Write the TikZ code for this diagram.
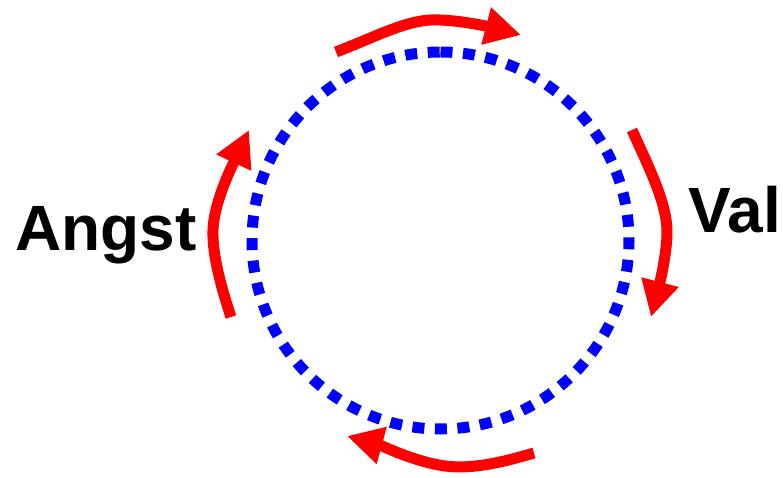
\documentclass[tikz,border=0pt]{standalone}
\usepackage{fontspec}
\setmainfont{Liberation Sans}
\usetikzlibrary{arrows.meta}
\begin{document}
\begin{tikzpicture}[x=0.75pt,y=-0.75pt,
  cyc/.style={draw=red,line width=8.25pt,-{Triangle[length=27pt,width=27pt]}},
  lbl/.style={inner sep=0pt,anchor=base west,font=\bfseries\fontsize{48}{56}\selectfont}]
\useasboundingbox (0,0) rectangle (783,478);
\coordinate (c) at (440.5,240.5);
\draw[blue,line width=8.25pt,dash pattern=on 9pt off 7.9pt] (c) ++(-90:188.5) arc[start angle=-90,end angle=270,radius=188.5];
\node[lbl] (angst) at (15,250) {Angst};
\node[lbl] (val) at (688,233) {Val};
\coordinate (t1) at (336,52);
\coordinate (t2) at (521,35);
\coordinate (r1) at (632,130);
\coordinate (r2) at (651,317);
\coordinate (b1) at (534,453);
\coordinate (b2) at (347,436);
\coordinate (l1) at (231,317);
\coordinate (l2) at (249,130);
\draw[cyc] (t1) .. controls (380,35) and (410,18) .. (440,20) .. controls (465,21) and (490,27) .. (t2);
\draw[cyc] (r1) .. controls (650,170) and (668,205) .. (667,235) .. controls (666,260) and (658,290) .. (r2);
\draw[cyc] (b1) .. controls (510,460) and (475,470) .. (445,466) .. controls (415,462) and (380,445) .. (b2);
\draw[cyc] (l1) .. controls (222,290) and (212,255) .. (213,230) .. controls (214,200) and (235,160) .. (l2);
\end{tikzpicture}
\end{document}
